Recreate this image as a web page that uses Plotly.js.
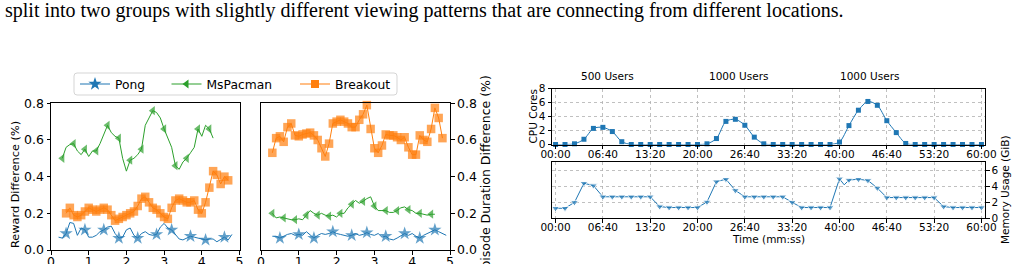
<!DOCTYPE html>
<html>
<head>
<meta charset="utf-8">
<script src="https://cdn.plot.ly/plotly-3.0.1.min.js"></script>
<style>
  html, body { margin: 0; padding: 0; background: #fff; overflow: hidden; }
  #chart { width: 1016px; height: 264px; }
</style>
</head>
<body>
<div id="chart"></div>
<script>
// ---------- left figure: per-game difference curves (x step 0.1) ----------
const xTicksLeft = [0, 1, 2, 3, 4, 5];
const yTicksLeft = [0, 0.2, 0.4, 0.6, 0.8];
const yTickTextLeft = ['0.0', '0.2', '0.4', '0.6', '0.8'];

const rewardPongStart = 0.2;
const rewardPong = [0.07, 0.065, 0.09, 0.15, 0.145, 0.08, 0.12, 0.11, 0.07, 0.07,
  0.08, 0.10, 0.11, 0.125, 0.13, 0.09, 0.065, 0.07, 0.11, 0.12,
  0.08, 0.065, 0.09, 0.10, 0.085, 0.08, 0.085, 0.125, 0.145, 0.12,
  0.11, 0.085, 0.06, 0.055, 0.065, 0.075, 0.07, 0.065, 0.06, 0.055,
  0.06, 0.06, 0.045, 0.06, 0.07, 0.055, 0.085];

const rewardMsPacmanStart = 0.3;
const rewardMsPacman = [0.50, 0.56, 0.575, 0.58, 0.54, 0.52, 0.55, 0.51, 0.54, 0.54,
  0.58, 0.63, 0.68, 0.64, 0.62, 0.61, 0.50, 0.43, 0.49, 0.50,
  0.52, 0.55, 0.68, 0.72, 0.76, 0.75, 0.72, 0.66, 0.61, 0.56,
  0.46, 0.44, 0.48, 0.50, 0.53, 0.56, 0.66, 0.62, 0.68, 0.66, 0.61];

const rewardBreakoutStart = 0.4;
const rewardBreakout = [0.20, 0.23, 0.19, 0.18, 0.19, 0.21, 0.23, 0.22, 0.21, 0.22,
  0.23, 0.22, 0.19, 0.16, 0.17, 0.18, 0.19, 0.20, 0.21, 0.24,
  0.28, 0.29, 0.26, 0.23, 0.22, 0.20, 0.18, 0.17, 0.23, 0.27,
  0.28, 0.27, 0.26, 0.26, 0.27, 0.22, 0.20, 0.26, 0.34, 0.43,
  0.41, 0.36, 0.40, 0.38];

const durationPongStart = 0.3;
const durationPong = [0.075, 0.075, 0.065, 0.075, 0.085, 0.09, 0.08, 0.085, 0.08, 0.10,
  0.085, 0.065, 0.08, 0.09, 0.085, 0.09, 0.10, 0.09, 0.085, 0.08,
  0.075, 0.08, 0.09, 0.08, 0.085, 0.095, 0.085, 0.08, 0.09, 0.07,
  0.075, 0.06, 0.055, 0.065, 0.08, 0.09, 0.08, 0.09, 0.075, 0.065,
  0.08, 0.09, 0.10, 0.11, 0.10, 0.09, 0.08];

const durationMsPacmanStart = 0.3;
const durationMsPacman = [0.20, 0.175, 0.18, 0.175, 0.17, 0.165, 0.165, 0.17, 0.165, 0.19,
  0.215, 0.20, 0.19, 0.20, 0.19, 0.185, 0.19, 0.18, 0.20, 0.20,
  0.23, 0.25, 0.27, 0.255, 0.265, 0.28, 0.29, 0.24, 0.215, 0.215,
  0.215, 0.205, 0.205, 0.215, 0.23, 0.235, 0.22, 0.215, 0.20, 0.20,
  0.195, 0.19, 0.195, 0.195];

const durationBreakoutStart = 0.3;
const durationBreakout = [0.53, 0.61, 0.62, 0.59, 0.67, 0.69, 0.625, 0.62, 0.63, 0.635,
  0.64, 0.625, 0.60, 0.555, 0.51, 0.58, 0.69, 0.70, 0.71, 0.70,
  0.69, 0.67, 0.67, 0.71, 0.74, 0.79, 0.66, 0.555, 0.53, 0.57,
  0.63, 0.625, 0.625, 0.615, 0.60, 0.615, 0.56, 0.52, 0.52, 0.625,
  0.60, 0.59, 0.66, 0.775, 0.72, 0.61];

// ---------- right figure: resource usage over one hour ----------
const timeTickValues = [0, 400, 800, 1200, 1600, 2000, 2400, 2800, 3200, 3600];
const timeTickLabels = ['00:00', '06:40', '13:20', '20:00', '26:40', '33:20', '40:00', '46:40', '53:20', '60:00'];
const phaseLabels = ['500 Users', '1000 Users', '1000 Users'];

const cpuTime = [0, 80, 160, 240, 320, 400, 480, 560, 640, 720, 800, 880, 960, 1040, 1120, 1200,
  1280, 1360, 1440, 1520, 1600, 1680, 1760, 1840, 1920, 2000, 2080, 2160, 2240, 2320,
  2400, 2480, 2560, 2640, 2720, 2800, 2880, 2960, 3040, 3120, 3200, 3280, 3360, 3440, 3520, 3600];
const cpuCores = [0, 0, 0.1, 0.75, 2.3, 2.45, 1.85, 0.4, 0, 0, 0, 0, 0, 0, 0, 0,
  0.1, 0.85, 3.3, 3.6, 2.75, 1.05, 0.1, 0, 0, 0, 0, 0, 0, 0,
  0.35, 2.7, 4.9, 6.15, 5.6, 3.4, 1.7, 0.15, 0, 0, 0, 0, 0, 0, 0, 0];

const memTime = [0, 80, 160, 240, 320, 400, 480, 560, 640, 720, 800, 880, 960, 1040, 1120, 1200,
  1280, 1360, 1440, 1520, 1600, 1680, 1760, 1840, 1920, 2000, 2080, 2160, 2240, 2320,
  2400, 2440, 2480, 2560, 2640, 2720, 2800, 2880, 2960, 3040, 3120, 3200, 3280, 3360, 3440, 3520, 3600];
const memGiB = [1.26, 1.26, 2.0, 4.4, 4.1, 2.7, 2.7, 2.7, 2.7, 2.7, 2.7, 1.47, 1.35, 1.35, 1.35, 1.35,
  2.05, 4.6, 4.9, 3.5, 2.7, 2.7, 2.7, 2.7, 2.7, 2.0, 1.35, 1.35, 1.35, 1.35,
  4.95, 4.2, 4.8, 4.9, 4.75, 3.8, 2.6, 2.6, 2.6, 2.6, 2.6, 2.6, 1.47, 1.35, 1.35, 1.35, 1.35];

// ---------- helpers ----------
const W = 1016, H = 264;
const px = v => v / W;          // pixel column -> paper x
const py = v => 1 - v / H;      // pixel row -> paper y
const xs = (start, arr) => arr.map((_, i) => +(start + 0.1 * i).toFixed(2));
const sizesAt = (n, idx, s) => Array.from({length: n}, (_, i) => idx.includes(i) ? s : 0);
const sizesEvery = (n, step, offset, s) => Array.from({length: n}, (_, i) => ((i - offset) % step === 0 && i >= offset) ? s : 0);

const BLUE = '#1f77b4', ORANGE = '#ff7f0e', GREEN = '#2ca02c';

function series(xaxis, yaxis, start, vals, color, symbol, sizes) {
  return {
    type: 'scatter', mode: 'lines+markers', xaxis, yaxis, showlegend: false,
    x: xs(start, vals), y: vals, cliponaxis: false,
    line: {color, width: 1},
    marker: {color, symbol, size: sizes, line: {width: 0}},
    hoverinfo: 'skip'
  };
}
function legendEntry(name, color, symbol, size, legend) {
  return {
    type: 'scatter', mode: 'lines+markers', name, legend, x: [null], y: [null],
    xaxis: 'x', yaxis: 'y', line: {color, width: 1.2},
    marker: {color, symbol, size, line: {width: 0}}
  };
}

const traces = [
  series('x', 'y', rewardPongStart, rewardPong, BLUE, 'star',
    sizesAt(rewardPong.length, [2, 7, 12, 16, 21, 26, 30, 35, 39, 44], 10)),
  series('x', 'y', rewardMsPacmanStart, rewardMsPacman, GREEN, 'triangle-left',
    sizesEvery(rewardMsPacman.length, 3, 0, 8)),
  series('x', 'y', rewardBreakoutStart, rewardBreakout, ORANGE, 'square',
    sizesEvery(rewardBreakout.length, 1, 0, 8.5)),
  series('x2', 'y2', durationPongStart, durationPong, BLUE, 'star',
    sizesAt(durationPong.length, [2, 7, 11, 16, 21, 25, 30, 35, 39, 43], 10)),
  series('x2', 'y2', durationMsPacmanStart, durationMsPacman, GREEN, 'triangle-left',
    sizesEvery(durationMsPacman.length, 3, 0, 8)),
  series('x2', 'y2', durationBreakoutStart, durationBreakout, ORANGE, 'square',
    sizesEvery(durationBreakout.length, 1, 0, 8.5)),
  {
    type: 'scatter', mode: 'lines+markers', xaxis: 'x3', yaxis: 'y3', showlegend: false,
    x: cpuTime, y: cpuCores, cliponaxis: false,
    line: {color: BLUE, width: 1, shape: 'spline', smoothing: 0.8},
    marker: {color: BLUE, symbol: 'square', size: 5}, hoverinfo: 'skip'
  },
  {
    type: 'scatter', mode: 'lines+markers', xaxis: 'x4', yaxis: 'y4', showlegend: false,
    x: memTime, y: memGiB, cliponaxis: false,
    line: {color: BLUE, width: 1},
    marker: {color: BLUE, symbol: 'triangle-down', size: memTime.map(t => t % 80 === 0 ? 7 : 0)},
    hoverinfo: 'skip'
  },
  legendEntry('Pong', BLUE, 'star', 10, 'legend'),
  legendEntry('MsPacman', GREEN, 'triangle-left', 8, 'legend2'),
  legendEntry('Breakout', ORANGE, 'square', 8, 'legend3')
];

const frame = {
  showline: true, linecolor: '#000', linewidth: 1, mirror: true,
  ticks: 'outside', ticklen: 3.5, tickwidth: 1, tickcolor: '#000',
  zeroline: false, showgrid: false, fixedrange: true
};
const grid = {showgrid: true, gridcolor: '#b0b0b0', gridwidth: 0.8, griddash: 'dot'};

const leftX = {...frame, range: [0, 5], tickvals: xTicksLeft, tickfont: {size: 12.5}, ticklabelstandoff: -4};
const leftY = {...frame, range: [0, 0.8], tickvals: yTicksLeft, ticktext: yTickTextLeft, tickfont: {size: 12.5}};
const timeX = {...frame, ...grid, range: [-30, 3630], tickvals: timeTickValues, ticktext: timeTickLabels,
  tickfont: {size: 10.5}, ticklabelstandoff: -4};

const legendBase = {
  orientation: 'h', xanchor: 'left', yanchor: 'middle', y: py(84),
  bgcolor: 'rgba(0,0,0,0)', borderwidth: 0, font: {size: 12.3}, itemclick: false
};

// rounded frame drawn behind the three legend groups
function roundedBox(x0, y0, x1, y1, r) {
  const rx = r / W, ry = r / H;
  const L = px(x0), R = px(x1), T = py(y0), B = py(y1);
  return `M${L + rx},${T} L${R - rx},${T} Q${R},${T} ${R},${T - ry} L${R},${B + ry} Q${R},${B} ${R - rx},${B} ` +
         `L${L + rx},${B} Q${L},${B} ${L},${B + ry} L${L},${T - ry} Q${L},${T} ${L + rx},${T} Z`;
}

const ann = (text, x, y, size, extra) => Object.assign({
  text, x: px(x), y: py(y), xref: 'paper', yref: 'paper', showarrow: false,
  xanchor: 'center', yanchor: 'middle', font: {size, color: '#000'}
}, extra || {});

const layout = {
  width: W, height: H,
  margin: {l: 0, r: 0, t: 0, b: 0},
  paper_bgcolor: '#fff', plot_bgcolor: '#fff',
  font: {family: 'DejaVu Sans', color: '#000'},
  xaxis: {...leftX, domain: [px(51), px(239.5)], anchor: 'y'},
  yaxis: {...leftY, domain: [py(250), py(103.3)], anchor: 'x'},
  xaxis2: {...leftX, domain: [px(261), px(450)], anchor: 'y2'},
  yaxis2: {...leftY, domain: [py(250), py(103.3)], anchor: 'x2', side: 'right'},
  xaxis3: {...timeX, domain: [px(552), px(985)], anchor: 'y3'},
  yaxis3: {...frame, ...grid, domain: [py(144.5), py(88.5)], anchor: 'x3', range: [0, 8], dtick: 2, tickfont: {size: 10.5}},
  xaxis4: {...timeX, domain: [px(552), px(985)], anchor: 'y4'},
  yaxis4: {...frame, ...grid, domain: [py(218.3), py(161.7)], anchor: 'x4', side: 'right', range: [0, 7.1], tickvals: [0, 2, 4, 6], tickfont: {size: 10.5}},
  legend: {...legendBase, x: px(75)},
  legend2: {...legendBase, x: px(166.5)},
  legend3: {...legendBase, x: px(295)},
  shapes: [{
    type: 'path', xref: 'paper', yref: 'paper', layer: 'below',
    path: roundedBox(74, 73, 397, 95, 3),
    line: {color: '#d5d5d5', width: 1}, fillcolor: '#fff'
  }],
  annotations: [
    ann('split into two groups with slightly different viewing patterns that are connecting from different locations.',
      3, 11, 20, {xanchor: 'left', font: {family: 'Liberation Serif', size: 20, color: '#000'}}),
    ann('Reward Difference (%)', 15, 185, 11.3, {textangle: -90}),
    ann('Episode Duration Difference (%)', 485, 176.5, 12.5, {textangle: -90}),
    ann('CPU Cores', 532, 116.5, 10.5, {textangle: -90}),
    ann('Memory Usage (GiB)', 1005, 190, 10.5, {textangle: -90}),
    ann('Time (mm:ss)', 768.4, 239.3, 10.5),
    ann(phaseLabels[0], 607.5, 76, 10.5),
    ann(phaseLabels[1], 738.8, 76, 10.5),
    ann(phaseLabels[2], 869.7, 76, 10.5)
  ]
};

Plotly.newPlot('chart', traces, layout, {staticPlot: true, displayModeBar: false});
</script>
</body>
</html>
